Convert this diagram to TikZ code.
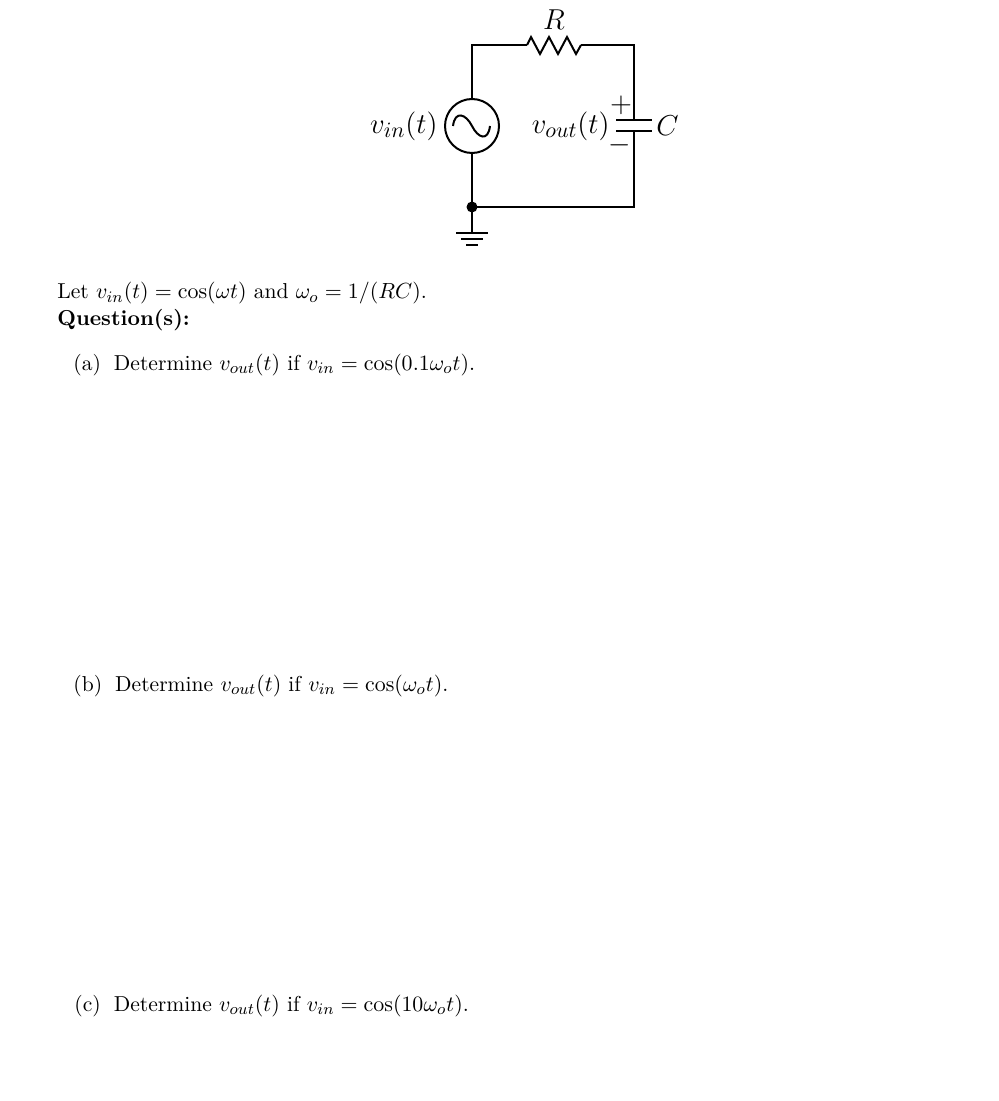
\documentclass[tikz,border=0pt]{standalone}
\usepackage{amsmath}
\usepackage{tikz}
\usetikzlibrary{positioning}

\begin{document}
\begin{tikzpicture}[x=0.5pt, y=-0.5pt, wire/.style={line width=1pt}, txt/.style={anchor=base west, inner sep=0pt, font=\fontsize{10.8}{13}\selectfont}, lab/.style={inner sep=1pt, font=\fontsize{15.5}{18}\selectfont}]
    \useasboundingbox (0,0) rectangle (999,1101);

    %Circuit points
    \coordinate (tl) at (472,45);
    \coordinate (tr) at (634,45);
    \coordinate (bl) at (472,207);
    \coordinate (br) at (634,207);
    \node[circle, draw, line width=1pt, minimum size=27pt, inner sep=0pt](src) at (472,126){};
    \coordinate (rin) at (527,45);
    \coordinate (rout) at (581,45);
    \coordinate (ctop) at (634,120);
    \coordinate (cbot) at (634,131);

    %Wires
    \draw[wire] (src.north) -- (tl) -- (rin);
    \draw[wire] (rin) -- ++(4,-8) -- ++(9,17) -- ++(9,-17) -- ++(9,17) -- ++(9,-17) -- ++(9,17) -- ++(5,-9) -- (rout);
    \draw[wire] (rout) -- (tr) -- (ctop);
    \draw[wire] (cbot) -- (br) -- (bl) -- (src.south);
    \draw[wire] (616,120) -- (652,120);
    \draw[wire] (616,131) -- (652,131);
    \draw[wire] (src.west) ++(9,0) .. controls +(2,-16) and +(-6,-12) .. (472,126) .. controls +(6,12) and +(-2,16) .. (490,126);
    \fill (bl) circle (5.5);
    \draw[wire] (bl) -- (472,233);
    \draw[wire] (456,233) -- (488,233);
    \draw[wire] (461,239) -- (483,239);
    \draw[wire] (466,245) -- (478,245);

    %Circuit labels
    \node[lab](Rlab) at (554,20){$R$};
    \node[lab](Clab)[anchor=west] at (654,126){$C$};
    \node[lab](vin)[anchor=east] at (440,126){$v_{in}(t)$};
    \node[lab](vout)[anchor=east] at (612,126){$v_{out}(t)$};
    \node[lab](plus) at (621,105){$+$};
    \node[lab](minus) at (620,145){$-$};

    %Text
    \node[txt](let) at (57,299){Let $v_{in}(t)=\cos(\omega t)$ and $\omega_o=1/(RC)$.};
    \node[txt](quest) at (57,325){\textbf{Question(s):}};
    \node[txt](qa) at (73,370){(a)\hspace{0.6em}Determine $v_{out}(t)$ if $v_{in}=\cos(0.1\omega_o t)$.};
    \node[txt](qb) at (73,691){(b)\hspace{0.6em}Determine $v_{out}(t)$ if $v_{in}=\cos(\omega_o t)$.};
    \node[txt](qc) at (74,1011){(c)\hspace{0.6em}Determine $v_{out}(t)$ if $v_{in}=\cos(10\omega_o t)$.};
\end{tikzpicture}
\end{document}
